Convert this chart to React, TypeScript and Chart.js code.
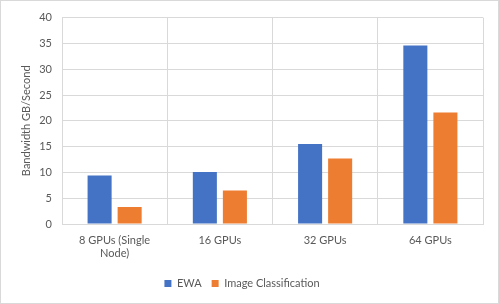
import React, { useEffect, useRef } from "react";
import { Chart, registerables } from "chart.js";

Chart.register(...registerables);

const categories: (string | string[])[] = [["8 GPUs (Single", "Node)"], "16 GPUs", "32 GPUs", "64 GPUs"];
const ewaValues = [9.4, 10.1, 15.5, 34.6];
const imageClassificationValues = [3.3, 6.5, 12.7, 21.6];
const yTicks = { min: 0, max: 40, step: 5 };

const FONT = "Lato";
const TEXT = "#595959";
const GRID = "#d9d9d9";

export default function App() {
  const ref = useRef<HTMLCanvasElement | null>(null);
  useEffect(() => {
    if (!ref.current) return;
    const chart = new Chart(ref.current, {
      type: "bar",
      data: {
        labels: categories,
        datasets: [
          {
            label: "EWA",
            data: ewaValues,
            backgroundColor: "#4472C4",
            categoryPercentage: 0.571,
            barPercentage: 0.8,
          },
          {
            label: "Image Classification",
            data: imageClassificationValues,
            backgroundColor: "#ED7D31",
            categoryPercentage: 0.571,
            barPercentage: 0.8,
          },
        ],
      },
      options: {
        animation: false,
        responsive: false,
        maintainAspectRatio: false,
        layout: { padding: { top: 11, right: 15, left: 0, bottom: 4 } },
        plugins: {
          tooltip: { enabled: false },
          legend: {
            position: "bottom",
            labels: {
              boxWidth: 7,
              boxHeight: 7,
              padding: 10,
              color: TEXT,
              font: { family: FONT, size: 11 },
            },
          },
        },
        scales: {
          x: {
            grid: { color: GRID, drawTicks: false, offset: true },
            border: { color: GRID },
            ticks: { color: TEXT, font: { family: FONT, size: 11 }, padding: 10, maxRotation: 0 },
            afterFit: (s: any) => {
              s.height = 44;
            },
          },
          y: {
            min: yTicks.min,
            max: yTicks.max,
            grid: { color: GRID, drawTicks: false },
            border: { display: false },
            ticks: { stepSize: yTicks.step, color: TEXT, font: { family: FONT, size: 11 }, padding: 10 },
            title: {
              display: true,
              text: "Bandwidth GB/Second",
              color: TEXT,
              font: { family: FONT, size: 11 },
              padding: { top: 19, bottom: 4 },
            },
            afterFit: (s: any) => {
              s.width = 61;
            },
          },
        },
      },
    });
    return () => chart.destroy();
  }, []);
  return (
    <div
      style={{
        position: "absolute",
        left: 0,
        top: 0,
        width: 499,
        height: 304,
        boxSizing: "border-box",
        border: "1px solid #d9d9d9",
        background: "#fff",
      }}
    >
      <canvas ref={ref} width={497} height={302} style={{ display: "block" }} />
    </div>
  );
}
